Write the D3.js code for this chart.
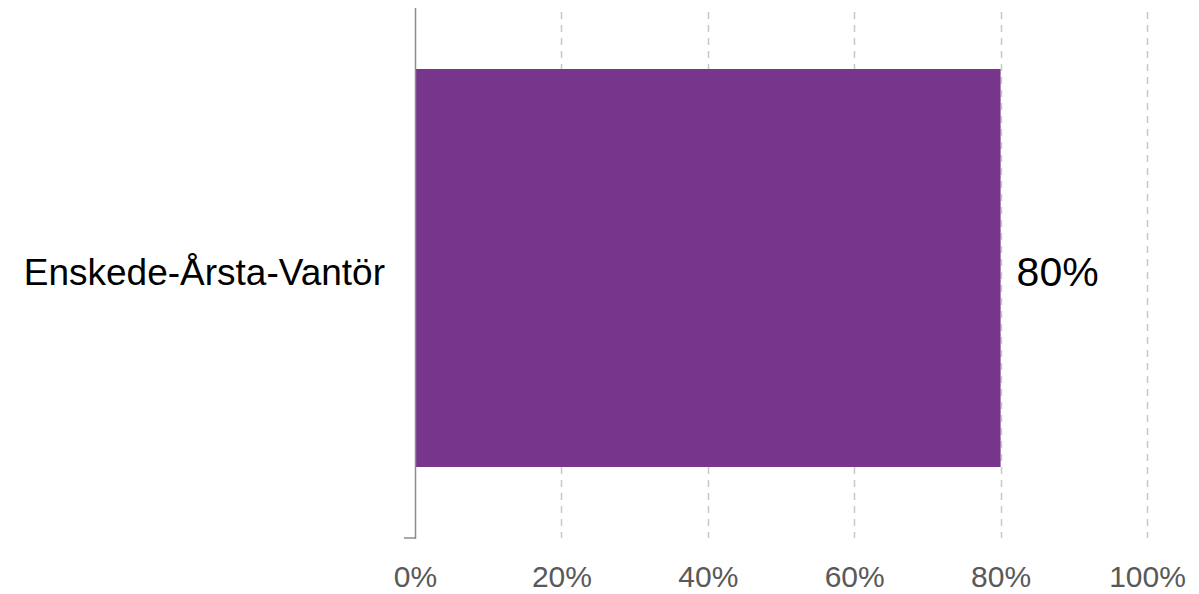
<!DOCTYPE html>
<html>
<head>
<meta charset="utf-8">
<script src="https://cdn.jsdelivr.net/npm/d3@7"></script>
<style>
  body { margin: 0; background: #fff; }
  svg { display: block; font-family: "Liberation Sans", Arial, sans-serif; }
</style>
</head>
<body>
<div id="chart"></div>
<script>
var categories = ["Enskede-Årsta-Vantör"];
var values = [0.80];
var tickValues = [0, 0.2, 0.4, 0.6, 0.8, 1.0];

var width = 1199, height = 594;
var margin = { top: 8, right: 52, bottom: 56, left: 415 };
var axisBottomY = 538;

var svg = d3.select('#chart').append('svg')
    .attr('width', width)
    .attr('height', height);

var x = d3.scaleLinear()
    .domain([0, 1])
    .range([margin.left, width - margin.right]);

var y = d3.scaleBand()
    .domain(categories)
    .range([margin.top, 528])
    .paddingInner(0)
    .paddingOuter(0.1533);

// dashed gridlines
svg.append('g').selectAll('line')
    .data(tickValues.slice(1))
    .enter().append('line')
    .attr('x1', function (d) { return Math.round(x(d)) + 0.5; })
    .attr('x2', function (d) { return Math.round(x(d)) + 0.5; })
    .attr('y1', margin.top + 4)
    .attr('y2', axisBottomY)
    .attr('stroke', '#c8c8c8')
    .attr('stroke-width', 1.5)
    .attr('stroke-dasharray', '7,6');

// bars
svg.append('g').selectAll('rect')
    .data(values)
    .enter().append('rect')
    .attr('x', x(0))
    .attr('y', function (d, i) { return y(categories[i]); })
    .attr('width', function (d) { return x(d) - x(0); })
    .attr('height', y.bandwidth())
    .attr('fill', '#77368b');

// value labels
svg.append('g').selectAll('text')
    .data(values)
    .enter().append('text')
    .attr('x', function (d) { return x(d) + 16; })
    .attr('y', function (d, i) { return y(categories[i]) + y.bandwidth() / 2 + 4; })
    .attr('dy', '0.35em')
    .style('font-size', '41px')
    .attr('fill', '#000')
    .text(function (d) { return Math.round(d * 100) + '%'; });

// category axis
svg.append('line')
    .attr('x1', margin.left + 0.5).attr('x2', margin.left + 0.5)
    .attr('y1', margin.top).attr('y2', axisBottomY + 1)
    .attr('stroke', '#8c8c8c').attr('stroke-width', 1.5);
svg.append('line')
    .attr('x1', margin.left - 11).attr('x2', margin.left + 0.5)
    .attr('y1', axisBottomY).attr('y2', axisBottomY)
    .attr('stroke', '#8c8c8c').attr('stroke-width', 1.5);

svg.append('g').selectAll('text')
    .data(categories)
    .enter().append('text')
    .attr('x', margin.left - 30)
    .attr('y', function (d) { return y(d) + y.bandwidth() / 2 + 4; })
    .attr('dy', '0.35em')
    .attr('text-anchor', 'end')
    .style('font-size', '37px')
    .attr('fill', '#000')
    .text(function (d) { return d; });

// x tick labels
var xAxis = d3.axisBottom(x)
    .tickValues(tickValues)
    .tickSize(0)
    .tickPadding(0)
    .tickFormat(d3.format('.0%'));

var gx = svg.append('g')
    .attr('transform', 'translate(0,566)')
    .call(xAxis);
gx.select('.domain').remove();
gx.selectAll('text')
    .style('font-size', '30px')
    .style('font-family', '"Liberation Sans", Arial, sans-serif')
    .attr('fill', '#595959');
</script>
</body>
</html>
